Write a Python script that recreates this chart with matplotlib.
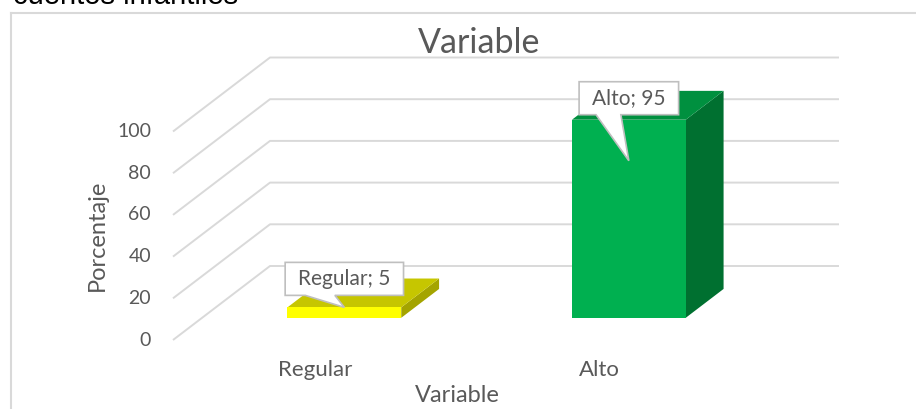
import numpy as np
import matplotlib
matplotlib.use("Agg")
import matplotlib.pyplot as plt
from matplotlib.patches import Polygon
from matplotlib.lines import Line2D

# Data
categories = ["Regular", "Alto"]
values = [5, 95]
y_ticks = [0, 20, 40, 60, 80, 100]
front_colors = ["#FFFF00", "#00B050"]
top_colors = ["#C6C600", "#00903F"]
side_colors = ["#A4A400", "#007030"]

plt.rcParams["font.family"] = ["Lato", "DejaVu Sans"]
TXT = "#595959"
GRID = "#D9D9D9"

W, H, DPI = 916, 409, 100
fig = plt.figure(figsize=(W / DPI, H / DPI), dpi=DPI)
ax = fig.add_axes([0, 0, 1, 1])
ax.axis("off")

# layout of the 3D box (pixels)
front_left, front_zero = 173, 340
cat_px = 284.5          # pixels per category
val_px = 2.085          # pixels per value unit
depth_dx, depth_dy = 97, 74
DX = depth_dx / cat_px
DY = depth_dy / val_px
ax.set_xlim(-0.5 - front_left / cat_px, -0.5 + (W - front_left) / cat_px)
ax.set_ylim(-(H - front_zero) / val_px, front_zero / val_px)

def P(x, v, d):
    return (x + d * DX, v + d * DY)

n = len(categories)
x_left, x_right = -0.5, n - 0.5

# gridlines: side wall diagonals + back wall
for t in y_ticks:
    a = P(x_left, t, 0)
    b = P(x_left, t, 1)
    c = P(x_right, t, 1)
    ax.plot([a[0], b[0], c[0]], [a[1], b[1], c[1]], color=GRID, lw=1.4,
            zorder=1, solid_capstyle="butt")
    ax.text(x_left - 22 / cat_px, t, str(t), ha="right", va="center",
            fontsize=14, color=TXT)

# bars
hw, d0, d1 = 0.2, 0.30, 0.69
for i, v in enumerate(values):
    front = [P(i - hw, 0, d0), P(i + hw, 0, d0), P(i + hw, v, d0), P(i - hw, v, d0)]
    top = [P(i - hw, v, d0), P(i + hw, v, d0), P(i + hw, v, d1), P(i - hw, v, d1)]
    side = [P(i + hw, 0, d0), P(i + hw, 0, d1), P(i + hw, v, d1), P(i + hw, v, d0)]
    ax.add_patch(Polygon(side, closed=True, fc=side_colors[i], ec="none", zorder=2))
    ax.add_patch(Polygon(top, closed=True, fc=top_colors[i], ec="none", zorder=2))
    ax.add_patch(Polygon(front, closed=True, fc=front_colors[i], ec="none", zorder=2))
    ax.text(i, -(370 - front_zero) / val_px, categories[i], ha="center", va="center",
            fontsize=16, color=TXT)

# data label callouts
fig.canvas.draw()
rend = fig.canvas.get_renderer()
tip_drop = [0, 41]     # pixels the pointer tip sits below the bar top
box_gap = [12, 46]     # pixels from tip up to box bottom
box_h, pad = 33, 13
for i, v in enumerate(values):
    tx, ty = P(i, v, d0)
    ty -= tip_drop[i] / val_px
    label = f"{categories[i]}; {v}"
    y_bot = ty + box_gap[i] / val_px
    y_top = y_bot + box_h / val_px
    t = ax.text(tx, (y_bot + y_top) / 2, label, ha="center", va="center",
                fontsize=15, color=TXT, zorder=5)
    tw = t.get_window_extent(rend).width
    bw = (tw + 2 * pad) / cat_px
    x0, x1 = tx - bw / 2, tx + bw / 2
    b0, b1 = x0 + 0.17 * bw, x0 + 0.42 * bw
    verts = [(x0, y_bot), (b0, y_bot), (tx, ty), (b1, y_bot), (x1, y_bot),
             (x1, y_top), (x0, y_top)]
    ax.add_patch(Polygon(verts, closed=True, fc="white", ec="#BFBFBF", lw=1.2,
                         zorder=4, joinstyle="miter"))

# axis titles
ax.text(x_left - 76 / cat_px, (y_ticks[0] + y_ticks[-1]) / 2, "Porcentaje",
        rotation=90, ha="center", va="center", fontsize=17, color=TXT)
ax.text((x_left + x_right) / 2, -(395 - front_zero) / val_px, "Variable",
        ha="center", va="center", fontsize=17, color=TXT)

# chart title
fig.text(479.5 / W, 1 - 53 / H, "Variable", ha="center", va="baseline",
         fontsize=24.5, color=TXT)

# chart frame (extends beyond the image on right and bottom)
fig.add_artist(Line2D([11 / W, 11 / W], [0, 1 - 13 / H], color=GRID, lw=1.5,
                      transform=fig.transFigure))
fig.add_artist(Line2D([11 / W, 1], [1 - 13 / H, 1 - 13 / H], color=GRID, lw=1.5,
                      transform=fig.transFigure))

# caption cut off by the top edge (as in the source image)
fig.text(13 / W, 1 - 4 / H, "cuentos infantiles", ha="left", va="baseline",
         fontsize=21, color="black", family=["Liberation Sans", "DejaVu Sans"])

fig.savefig("out.png", dpi=DPI)
